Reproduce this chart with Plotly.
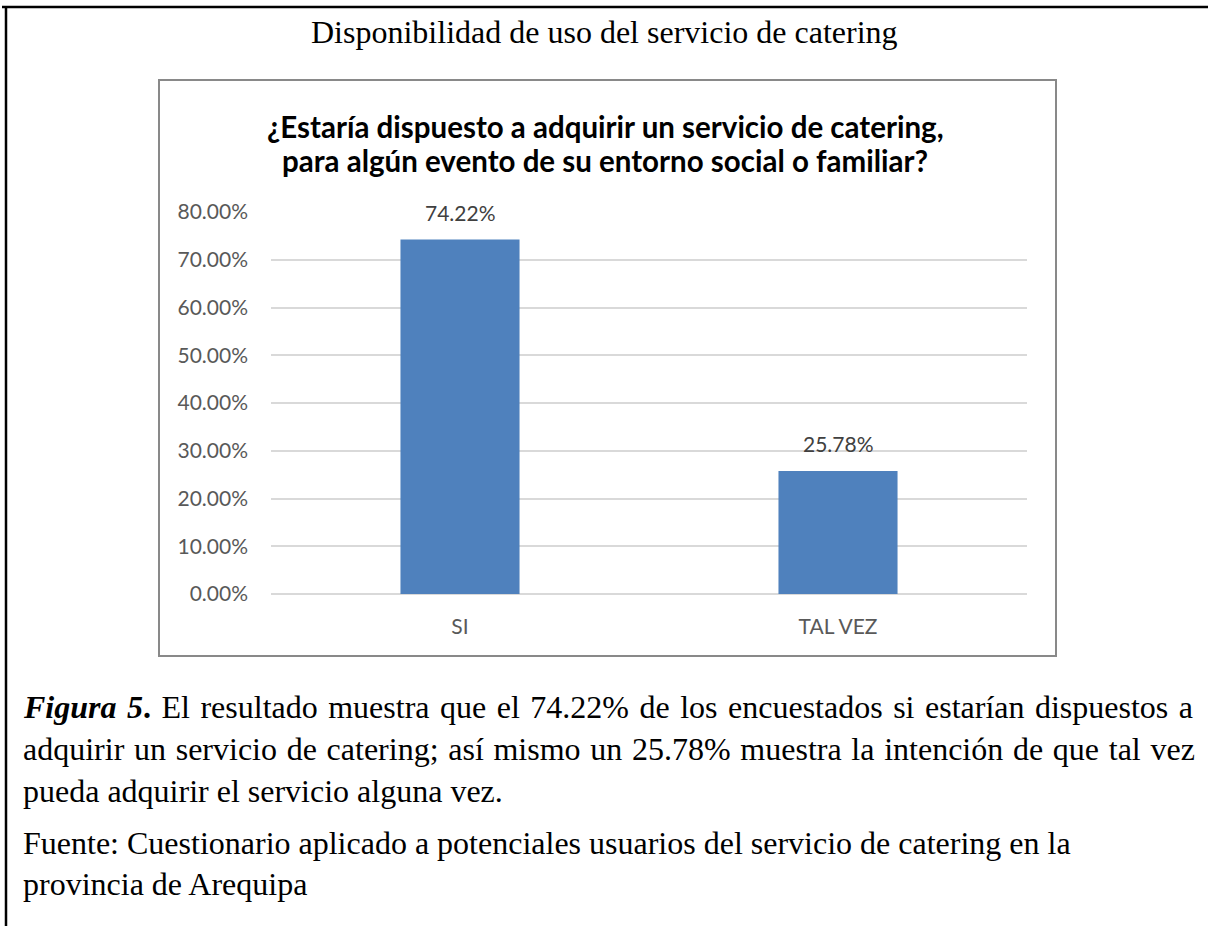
import plotly.graph_objects as go

categories = ["SI", "TAL VEZ"]
values = [0.7422, 0.2578]
value_labels = ["74.22%", "25.78%"]
y_ticks = [0.0, 0.1, 0.2, 0.3, 0.4, 0.5, 0.6, 0.7, 0.8]

heading = "Disponibilidad de uso del servicio de catering"
title_lines = [
    "¿Estaría dispuesto a adquirir un servicio de catering,",
    "para algún evento de su entorno social o familiar?",
]
caption_lines = [
    "<b><i>Figura 5</i>.</b> El resultado muestra que el 74.22% de los encuestados si estarían dispuestos a",
    "adquirir un servicio de catering; así mismo un 25.78% muestra la intención de que tal vez",
    "pueda adquirir el servicio alguna vez.",
]
source_lines = [
    "Fuente: Cuestionario aplicado a potenciales usuarios del servicio de catering en la",
    "provincia de Arequipa",
]

W, H = 1208, 926
def px(x):
    return x / W
def py(y):
    return 1 - y / H

SANS = "Lato, Calibri, sans-serif"
SERIF = "Liberation Serif, Times New Roman, serif"

fig = go.Figure()
fig.add_trace(go.Bar(
    x=categories, y=values,
    marker=dict(color="#4F81BD", line=dict(color="#4F81BD", width=0)),
    width=0.315,
    hoverinfo="skip",
))

annotations = []
for c, v, t in zip(categories, values, value_labels):
    annotations.append(dict(x=c, y=v, xref="x", yref="y", text=t, showarrow=False,
                            yanchor="bottom", yshift=13,
                            font=dict(family=SANS, size=21, color="#404040")))

annotations.append(dict(x=0.5, y=py(32), xref="paper", yref="paper", text=heading,
                        showarrow=False, xanchor="center", yanchor="middle",
                        font=dict(family=SERIF, size=32, color="#000000")))
for t, yy in zip(title_lines, [127, 160]):
    annotations.append(dict(x=px(605), y=py(yy), xref="paper", yref="paper", text="<b>" + t + "</b>",
                            showarrow=False, xanchor="center", yanchor="middle",
                            font=dict(family=SANS, size=29.5, color="#000000")))
cap_y = [707, 749, 791]
cap_spacing = ["2.5px", "1.7px", "0px"]
for t, yy, ws in zip(caption_lines, cap_y, cap_spacing):
    annotations.append(dict(x=px(21), y=py(yy), xref="paper", yref="paper",
                            text='<span style="word-spacing:%s">%s</span>' % (ws, t),
                            showarrow=False, xanchor="left", yanchor="middle",
                            font=dict(family=SERIF, size=32, color="#000000")))
src_y = [843, 884]
for t, yy in zip(source_lines, src_y):
    annotations.append(dict(x=px(21), y=py(yy), xref="paper", yref="paper", text=t,
                            showarrow=False, xanchor="left", yanchor="middle",
                            font=dict(family=SERIF, size=32, color="#000000")))

shapes = [
    dict(type="rect", xref="paper", yref="paper", x0=px(159), x1=px(1056), y0=py(656), y1=py(80),
         line=dict(color="#898989", width=2), fillcolor="rgba(0,0,0,0)", layer="below"),
    dict(type="line", xref="paper", yref="paper", x0=px(2), x1=1, y0=py(7), y1=py(7),
         line=dict(color="#000000", width=2.5)),
    dict(type="line", xref="paper", yref="paper", x0=px(6), x1=px(6), y0=py(7), y1=0,
         line=dict(color="#000000", width=2.5)),
]

fig.update_layout(
    width=W, height=H,
    margin=dict(l=0, r=0, t=0, b=0, autoexpand=False),
    paper_bgcolor="white", plot_bgcolor="white",
    showlegend=False,
    bargap=0.685,
    annotations=annotations,
    shapes=shapes,
    xaxis=dict(domain=[px(271), px(1027)], showgrid=False, showline=False, zeroline=False,
               automargin=False, ticks="", ticklabelstandoff=18,
               tickfont=dict(family=SANS, size=21, color="#595959")),
    yaxis=dict(domain=[py(594), py(212)], range=[0, 0.8], tickvals=y_ticks, tickformat=".2%",
               automargin=False,
               showgrid=True, gridcolor="#D9D9D9", gridwidth=1.5,
               zeroline=True, zerolinecolor="#D9D9D9", zerolinewidth=1.5,
               showline=False, ticks="", ticklabelstandoff=22,
               tickfont=dict(family=SANS, size=21, color="#595959")),
)

fig.write_html("out.html")
